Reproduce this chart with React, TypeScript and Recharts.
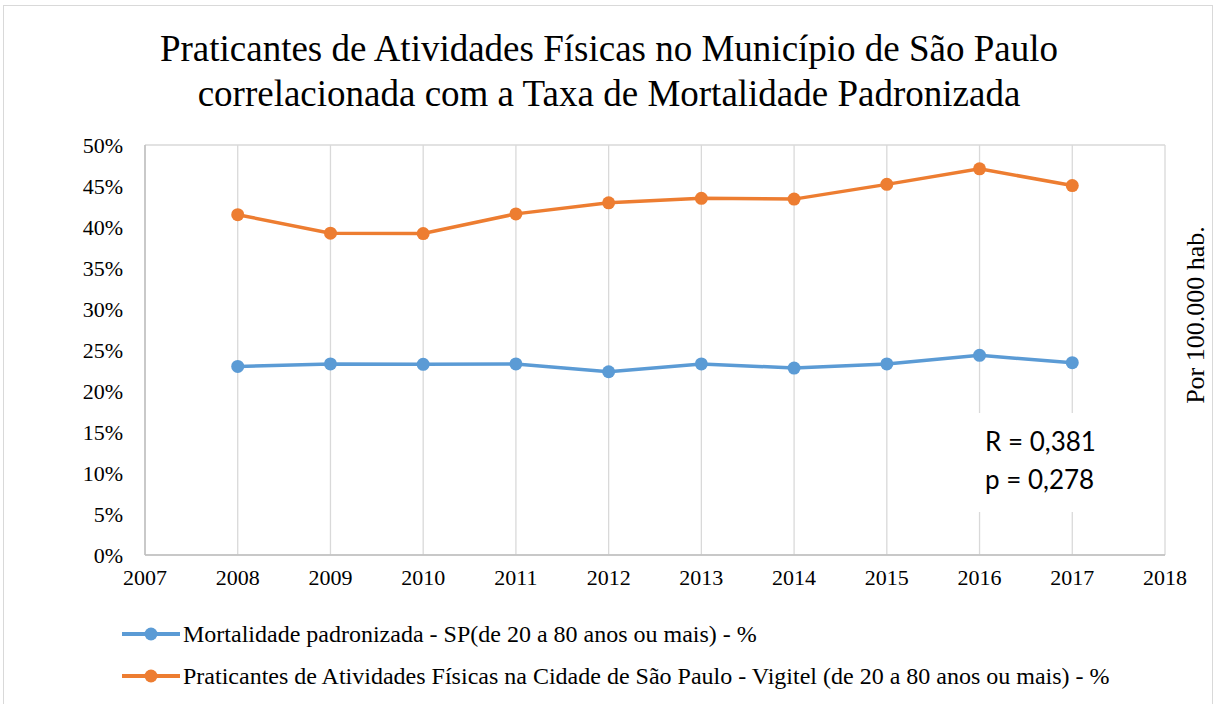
import React from 'react'
import {
  LineChart,
  Line,
  XAxis,
  YAxis,
  CartesianGrid,
  Legend,
} from 'recharts'

const years = [2008, 2009, 2010, 2011, 2012, 2013, 2014, 2015, 2016, 2017]
const mortalidade = [23.0, 23.3, 23.25, 23.3, 22.35, 23.3, 22.8, 23.3, 24.35, 23.45]
const praticantes = [41.5, 39.25, 39.2, 41.6, 42.95, 43.5, 43.4, 45.2, 47.1, 45.05]
const xTicks = [2007, 2008, 2009, 2010, 2011, 2012, 2013, 2014, 2015, 2016, 2017, 2018]
const yTicks = [0, 5, 10, 15, 20, 25, 30, 35, 40, 45, 50]

const seriesNames = {
  mort: 'Mortalidade padronizada - SP(de 20 a 80 anos ou mais) - %',
  prat: 'Praticantes de Atividades Físicas na Cidade de São Paulo - Vigitel (de 20 a 80 anos ou mais) - %',
}

const BLUE = '#5B9BD5'
const ORANGE = '#ED7D31'
const SERIF = '"Liberation Serif", "Times New Roman", serif'

const data = years.map((year, i) => ({
  year,
  mort: mortalidade[i],
  prat: praticantes[i],
}))

function LegendContent() {
  const items = [
    { name: seriesNames.mort, color: BLUE },
    { name: seriesNames.prat, color: ORANGE },
  ]
  return (
    <div style={{ height: 110, paddingTop: 28, boxSizing: 'border-box', paddingLeft: 120 }}>
      {items.map((it) => (
        <div
          key={it.name}
          style={{ height: 42, display: 'flex', alignItems: 'center', fontFamily: SERIF, fontSize: 24, color: '#000', whiteSpace: 'nowrap' }}
        >
          <svg width={62} height={20} style={{ marginRight: 1 }}>
            <line x1={2} y1={10} x2={60} y2={10} stroke={it.color} strokeWidth={4} />
            <circle cx={31} cy={10} r={6.5} fill={it.color} />
          </svg>
          <span>{it.name}</span>
        </div>
      ))}
    </div>
  )
}

export default function App() {
  return (
    <div style={{ position: 'absolute', left: 0, top: 0, width: 1218, height: 704, background: '#fff', overflow: 'hidden' }}>
      <div
        style={{
          position: 'absolute',
          left: 3,
          top: 5,
          width: 1210,
          height: 720,
          border: '1.5px solid #d9d9d9',
          boxSizing: 'border-box',
        }}
      />
      <div
        style={{
          position: 'absolute',
          left: 0,
          top: 26,
          width: 1218,
          textAlign: 'center',
          fontFamily: SERIF,
          fontSize: 37,
          lineHeight: '45px',
          color: '#000',
        }}
      >
        Praticantes de Atividades Físicas no Município de São Paulo
        <br />
        correlacionada com a Taxa de Mortalidade Padronizada
      </div>
      <div style={{ position: 'absolute', left: 0, top: 0 }}>
        <LineChart width={1218} height={704} data={data} margin={{ top: 145, right: 0, left: 0, bottom: 9 }}>
          <CartesianGrid stroke="#d9d9d9" strokeWidth={1.3} />
          <XAxis
            dataKey="year"
            type="number"
            domain={[2007, 2018]}
            ticks={xTicks}
            interval={0}
            tickLine={false}
            tickSize={12}
            axisLine={{ stroke: '#bfbfbf', strokeWidth: 1.5 }}
            tick={{ fill: '#000', fontSize: 22, fontFamily: SERIF }}
            height={30}
          />
          <YAxis
            yAxisId="left"
            type="number"
            domain={[0, 50]}
            ticks={yTicks}
            interval={0}
            width={145}
            tickLine={false}
            tickSize={20}
            axisLine={{ stroke: '#bfbfbf', strokeWidth: 1.5 }}
            tickFormatter={(v) => `${v}%`}
            tick={{ fill: '#000', fontSize: 22, fontFamily: SERIF }}
          />
          <YAxis
            yAxisId="right"
            orientation="right"
            width={53}
            domain={[0, 50]}
            tick={false}
            axisLine={false}
            tickLine={false}
            label={(props: any) => {
              const vb = props.viewBox || {}
              const cx = (vb.x ?? 1165) + 30
              const cy = (vb.y ?? 145) + (vb.height ?? 410) / 2 - 35
              return (
                <text
                  x={cx}
                  y={cy}
                  transform={`rotate(-90 ${cx} ${cy})`}
                  textAnchor="middle"
                  dominantBaseline="central"
                  fontFamily={SERIF}
                  fontSize={26}
                  fill="#000"
                >
                  Por 100.000 hab.
                </text>
              )
            }}
          />
          <Legend verticalAlign="bottom" align="left" content={() => <LegendContent />} />
          <Line
            yAxisId="left"
            type="linear"
            dataKey="mort"
            name={seriesNames.mort}
            stroke={BLUE}
            strokeWidth={3.5}
            dot={{ r: 6.5, fill: BLUE, stroke: BLUE, strokeWidth: 0 }}
            isAnimationActive={false}
          />
          <Line
            yAxisId="left"
            type="linear"
            dataKey="prat"
            name={seriesNames.prat}
            stroke={ORANGE}
            strokeWidth={3.5}
            dot={{ r: 6.5, fill: ORANGE, stroke: ORANGE, strokeWidth: 0 }}
            isAnimationActive={false}
          />
        </LineChart>
      </div>
      <div
        style={{
          position: 'absolute',
          left: 965,
          top: 413,
          width: 180,
          height: 99,
          background: '#fff',
          boxSizing: 'border-box',
          paddingLeft: 20,
          paddingTop: 9,
          fontFamily: 'Lato, "Open Sans", sans-serif',
          fontSize: 26,
          lineHeight: '38px',
          color: '#000',
        }}
      >
        R = 0,381
        <br />
        p = 0,278
      </div>
    </div>
  )
}
